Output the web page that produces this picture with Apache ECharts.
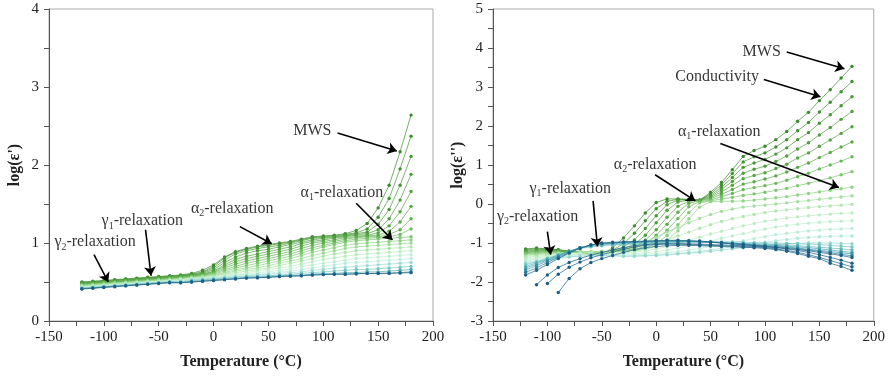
<!DOCTYPE html>
<html><head><meta charset="utf-8">
<script src="https://cdn.jsdelivr.net/npm/echarts@6/dist/echarts.min.js"></script>
<style>html,body{margin:0;padding:0;background:#fff}#c{width:888px;height:377px}</style>
</head><body><div id="c"></div>
<script>
// Temperatures (°C)
const temps = [-120,-110,-100,-90,-80,-70,-60,-50,-40,-30,-20,-10,0,10,20,30,40,50,60,70,80,90,100,110,120,130,140,150,160,170,180];

// ---- Left panel: log(ε') , series from lowest (k0) to highest (k19) frequency
const epsR00 = [.50,.51,.52,.53,.54,.55,.56,.57,.58,.59,.61,.65,.72,.82,.89,.93,.96,.98,1.00,1.02,1.05,1.08,1.09,1.10,1.12,1.16,1.25,1.45,1.74,2.17,2.64];
const epsR01 = [.495,.505,.515,.525,.535,.545,.555,.565,.575,.585,.60,.63,.70,.81,.88,.92,.95,.97,.99,1.01,1.04,1.07,1.08,1.09,1.11,1.13,1.18,1.33,1.57,1.95,2.37];
const epsR02 = [.49,.50,.51,.52,.53,.54,.55,.56,.57,.58,.595,.62,.68,.78,.86,.90,.93,.95,.97,1.00,1.03,1.06,1.07,1.08,1.10,1.12,1.14,1.24,1.43,1.74,2.11];
const epsR03 = [.485,.495,.505,.515,.525,.535,.545,.555,.565,.575,.59,.61,.66,.75,.82,.87,.90,.92,.95,.98,1.01,1.04,1.06,1.07,1.09,1.11,1.12,1.17,1.31,1.55,1.88];
const epsR04 = [.48,.49,.50,.51,.52,.53,.54,.55,.56,.57,.585,.60,.64,.72,.79,.83,.86,.89,.92,.95,.99,1.02,1.04,1.06,1.08,1.10,1.10,1.13,1.22,1.40,1.66];
const epsR05 = [.475,.485,.495,.505,.515,.525,.535,.545,.555,.565,.58,.595,.63,.70,.76,.80,.83,.86,.89,.92,.96,1.00,1.02,1.04,1.07,1.08,1.09,1.10,1.15,1.27,1.47];
const epsR06 = [.47,.48,.49,.50,.51,.52,.53,.54,.55,.56,.575,.59,.62,.68,.73,.77,.80,.83,.86,.89,.93,.97,1.00,1.02,1.05,1.07,1.08,1.08,1.11,1.17,1.31];
const epsR07 = [.465,.475,.485,.495,.505,.515,.525,.535,.545,.555,.57,.585,.61,.66,.70,.74,.77,.80,.83,.86,.90,.94,.97,1.00,1.03,1.05,1.06,1.07,1.08,1.11,1.18];
const epsR08 = [.46,.47,.48,.49,.50,.51,.52,.53,.54,.55,.565,.58,.60,.64,.68,.71,.74,.77,.80,.83,.87,.91,.95,.98,1.01,1.03,1.04,1.05,1.06,1.07,1.08];
const epsR09 = [.455,.465,.475,.485,.495,.505,.515,.525,.535,.545,.56,.575,.59,.62,.66,.68,.71,.74,.77,.80,.84,.88,.91,.94,.97,.99,1.00,1.01,1.02,1.03,1.04];
const epsR10 = [.45,.46,.47,.48,.49,.50,.51,.52,.53,.54,.555,.57,.58,.61,.64,.66,.68,.71,.74,.77,.80,.84,.87,.90,.93,.95,.96,.97,.98,.99,1.00];
const epsR11 = [.445,.455,.465,.475,.485,.495,.505,.515,.525,.535,.55,.56,.57,.60,.62,.64,.66,.68,.71,.74,.77,.80,.83,.86,.88,.90,.91,.92,.93,.94,.95];
const epsR12 = [.44,.45,.46,.47,.48,.49,.50,.51,.52,.53,.545,.555,.56,.59,.60,.62,.64,.66,.68,.70,.73,.76,.79,.81,.83,.85,.86,.87,.88,.89,.90];
const epsR13 = [.435,.445,.455,.465,.475,.485,.495,.505,.515,.525,.54,.55,.555,.58,.59,.60,.62,.63,.65,.67,.70,.72,.74,.76,.78,.80,.81,.82,.83,.84,.85];
const epsR14 = [.43,.44,.45,.46,.47,.48,.49,.50,.51,.52,.535,.545,.55,.57,.58,.59,.60,.61,.63,.64,.66,.68,.70,.72,.74,.75,.76,.77,.78,.79,.80];
const epsR15 = [.425,.435,.445,.455,.465,.475,.485,.495,.505,.51,.53,.54,.545,.56,.57,.58,.59,.60,.61,.62,.63,.65,.66,.68,.69,.70,.71,.72,.73,.74,.75];
const epsR16 = [.42,.43,.44,.45,.46,.47,.48,.49,.50,.50,.52,.53,.54,.55,.56,.57,.575,.58,.59,.60,.61,.62,.63,.64,.65,.66,.66,.67,.68,.69,.70];
const epsR17 = [.416,.426,.436,.446,.456,.466,.476,.486,.496,.495,.51,.52,.53,.54,.55,.56,.565,.57,.58,.585,.59,.60,.61,.61,.62,.62,.63,.63,.64,.65,.66];
const epsR18 = [.413,.423,.433,.443,.453,.463,.473,.483,.493,.49,.50,.51,.52,.53,.54,.55,.555,.56,.57,.575,.58,.59,.595,.60,.60,.605,.61,.61,.615,.62,.63];
const epsR19 = [.41,.42,.43,.44,.45,.46,.47,.48,.49,.49,.50,.51,.52,.53,.54,.55,.555,.56,.57,.575,.58,.59,.595,.60,.60,.605,.61,.61,.61,.615,.62];

// ---- Right panel: log(ε''), series from lowest (k0) to highest (k24) frequency
const epsI00 = [-1.15,-1.13,-1.15,-1.17,-1.21,-1.26,-1.30,-1.30,-1.12,-0.87,-0.56,-0.23,0.04,0.13,0.13,0.12,0.10,0.30,0.55,0.88,1.22,1.37,1.48,1.65,1.86,2.12,2.35,2.65,2.93,3.23,3.53];
const epsI01 = [-1.17,-1.15,-1.16,-1.18,-1.21,-1.25,-1.28,-1.28,-1.18,-1.02,-0.75,-0.43,-0.12,0.07,0.12,0.11,0.10,0.26,0.49,0.78,1.08,1.21,1.31,1.46,1.65,1.88,2.09,2.36,2.61,2.88,3.14];
const epsI02 = [-1.19,-1.17,-1.17,-1.19,-1.21,-1.24,-1.27,-1.27,-1.20,-1.10,-0.92,-0.63,-0.30,-0.02,0.10,0.11,0.10,0.22,0.43,0.68,0.94,1.05,1.14,1.28,1.44,1.65,1.83,2.07,2.29,2.52,2.75];
const epsI03 = [-1.21,-1.19,-1.19,-1.20,-1.22,-1.24,-1.26,-1.26,-1.21,-1.15,-1.03,-0.80,-0.48,-0.16,0.05,0.10,0.10,0.19,0.37,0.58,0.79,0.89,0.97,1.09,1.23,1.41,1.57,1.77,1.96,2.17,2.37];
const epsI04 = [-1.23,-1.21,-1.20,-1.21,-1.22,-1.24,-1.25,-1.25,-1.22,-1.18,-1.10,-0.93,-0.66,-0.34,-0.06,0.07,0.09,0.16,0.31,0.48,0.65,0.73,0.80,0.91,1.02,1.18,1.31,1.48,1.64,1.81,1.98];
const epsI05 = [-1.25,-1.23,-1.22,-1.22,-1.23,-1.24,-1.25,-1.24,-1.22,-1.20,-1.14,-1.02,-0.80,-0.52,-0.21,0.02,0.08,0.13,0.25,0.37,0.51,0.57,0.64,0.72,0.82,0.94,1.05,1.19,1.32,1.46,1.59];
const epsI06 = [-1.27,-1.25,-1.23,-1.23,-1.23,-1.23,-1.24,-1.23,-1.22,-1.21,-1.17,-1.08,-0.92,-0.67,-0.37,-0.07,0.06,0.10,0.19,0.27,0.37,0.42,0.47,0.53,0.61,0.70,0.79,0.90,1.00,1.10,1.21];
const epsI07 = [-1.29,-1.27,-1.25,-1.24,-1.24,-1.23,-1.23,-1.22,-1.22,-1.21,-1.19,-1.13,-1.02,-0.81,-0.53,-0.22,0.03,0.08,0.13,0.17,0.22,0.26,0.30,0.35,0.40,0.47,0.53,0.60,0.67,0.75,0.83];
const epsI08 = [-1.31,-1.29,-1.27,-1.25,-1.24,-1.23,-1.22,-1.21,-1.21,-1.21,-1.20,-1.16,-1.08,-0.93,-0.69,-0.38,-0.08,0.06,0.07,0.07,0.08,0.10,0.13,0.16,0.19,0.23,0.27,0.31,0.35,0.39,0.43];
const epsI09 = [-1.34,-1.32,-1.29,-1.27,-1.25,-1.24,-1.23,-1.22,-1.22,-1.18,-1.10,-0.98,-0.85,-0.72,-0.60,-0.48,-0.37,-0.27,-0.19,-0.13,-0.08,-0.05,-0.03,0.00,0.03,0.06,0.09,0.12,0.15,0.18,0.21];
const epsI10 = [-1.37,-1.35,-1.32,-1.29,-1.27,-1.25,-1.24,-1.24,-1.24,-1.22,-1.18,-1.11,-1.02,-0.92,-0.82,-0.72,-0.62,-0.53,-0.45,-0.38,-0.32,-0.27,-0.22,-0.18,-0.15,-0.12,-0.09,-0.07,-0.05,-0.03,-0.01];
const epsI11 = [-1.40,-1.38,-1.35,-1.32,-1.29,-1.27,-1.26,-1.26,-1.26,-1.25,-1.23,-1.20,-1.15,-1.09,-1.01,-0.93,-0.85,-0.77,-0.70,-0.63,-0.56,-0.50,-0.44,-0.40,-0.36,-0.33,-0.30,-0.28,-0.26,-0.24,-0.23];
const epsI12 = [-1.43,-1.41,-1.37,-1.34,-1.31,-1.29,-1.28,-1.28,-1.28,-1.28,-1.27,-1.25,-1.22,-1.18,-1.13,-1.07,-1.01,-0.95,-0.88,-0.82,-0.76,-0.70,-0.64,-0.59,-0.55,-0.52,-0.49,-0.47,-0.45,-0.44,-0.43];
const epsI13 = [-1.46,-1.43,-1.39,-1.36,-1.33,-1.31,-1.30,-1.30,-1.30,-1.30,-1.30,-1.29,-1.27,-1.25,-1.22,-1.18,-1.14,-1.09,-1.04,-0.99,-0.94,-0.89,-0.84,-0.79,-0.75,-0.72,-0.69,-0.67,-0.65,-0.64,-0.63];
const epsI14 = [-1.49,-1.46,-1.42,-1.38,-1.35,-1.33,-1.32,-1.32,-1.32,-1.33,-1.33,-1.32,-1.31,-1.29,-1.27,-1.24,-1.21,-1.18,-1.14,-1.10,-1.06,-1.02,-0.98,-0.94,-0.91,-0.88,-0.86,-0.84,-0.83,-0.82,-0.82];
const epsI15 = [-1.52,-1.49,-1.44,-1.40,-1.36,-1.34,-1.33,-1.33,-1.33,-1.34,-1.34,-1.33,-1.32,-1.30,-1.28,-1.26,-1.24,-1.21,-1.18,-1.15,-1.12,-1.09,-1.06,-1.04,-1.02,-1.01,-1.00,-1.00,-1.00,-1.01,-1.02];
const epsI16 = [-1.56,-1.48,-1.39,-1.30,-1.21,-1.14,-1.10,-1.07,-1.05,-1.04,-1.03,-1.02,-1.01,-1.00,-0.99,-0.98,-0.97,-0.97,-0.97,-0.97,-0.98,-0.99,-1.00,-1.00,-1.01,-1.02,-1.03,-1.04,-1.06,-1.08,-1.10];
const epsI17 = [-1.60,-1.51,-1.41,-1.31,-1.21,-1.13,-1.08,-1.05,-1.03,-1.02,-1.01,-1.00,-0.99,-0.98,-0.97,-0.97,-0.97,-0.98,-0.99,-1.00,-1.01,-1.02,-1.03,-1.04,-1.05,-1.07,-1.09,-1.11,-1.13,-1.15,-1.18];
const epsI18 = [-1.64,-1.54,-1.43,-1.32,-1.21,-1.12,-1.06,-1.03,-1.01,-1.00,-0.99,-0.98,-0.97,-0.96,-0.96,-0.96,-0.97,-0.98,-0.99,-1.01,-1.02,-1.04,-1.05,-1.06,-1.08,-1.10,-1.12,-1.15,-1.18,-1.21,-1.24];
const epsI19 = [-1.69,-1.58,-1.46,-1.34,-1.22,-1.12,-1.05,-1.02,-1.00,-0.99,-0.98,-0.97,-0.96,-0.95,-0.95,-0.96,-0.97,-0.98,-1.00,-1.02,-1.03,-1.05,-1.07,-1.08,-1.10,-1.13,-1.16,-1.19,-1.22,-1.25,-1.28];
const epsI20 = [-1.75,-1.64,-1.50,-1.37,-1.24,-1.13,-1.05,-1.01,-0.99,-0.98,-0.97,-0.96,-0.95,-0.94,-0.94,-0.95,-0.96,-0.98,-1.00,-1.02,-1.04,-1.06,-1.08,-1.10,-1.12,-1.15,-1.18,-1.21,-1.25,-1.29,-1.33];
const epsI21 = [-1.82,-1.70,-1.55,-1.40,-1.26,-1.14,-1.05,-1.00,-0.98,-0.97,-0.96,-0.95,-0.94,-0.93,-0.93,-0.94,-0.95,-0.97,-0.99,-1.02,-1.04,-1.07,-1.09,-1.11,-1.14,-1.17,-1.20,-1.24,-1.28,-1.32,-1.37];
const epsI22 = [null,-2.07,-1.82,-1.63,-1.50,-1.40,-1.31,-1.24,-1.18,-1.12,-1.07,-1.04,-1.02,-1.01,-1.01,-1.02,-1.03,-1.04,-1.05,-1.06,-1.07,-1.08,-1.10,-1.12,-1.15,-1.19,-1.24,-1.30,-1.37,-1.44,-1.52];
const epsI23 = [null,null,-2.04,-1.80,-1.62,-1.49,-1.38,-1.30,-1.23,-1.16,-1.10,-1.06,-1.04,-1.03,-1.03,-1.04,-1.05,-1.06,-1.07,-1.08,-1.09,-1.10,-1.12,-1.15,-1.19,-1.24,-1.30,-1.37,-1.45,-1.53,-1.61];
const epsI24 = [null,null,null,-2.27,-1.91,-1.66,-1.50,-1.40,-1.32,-1.24,-1.17,-1.12,-1.09,-1.07,-1.06,-1.06,-1.07,-1.08,-1.09,-1.10,-1.11,-1.12,-1.14,-1.17,-1.21,-1.27,-1.34,-1.40,-1.52,-1.60,-1.70];

// Axis ticks
const xTickLabels = [-150,-100,-50,0,50,100,150,200];
const yLeftTicks = [0,1,2,3,4];
const yRightTicks = [-3,-2,-1,0,1,2,3,4,5];

// Annotations: [text, x, y]  and arrows [x1,y1,x2,y2] (data units)
const leftLabels = [
  ['MWS', 90, 2.44],
  ['{a|α}{s|1}{a|-relaxation}', 117, 1.65],
  ['{a|α}{s|2}{a|-relaxation}', 17, 1.44],
  ['{a|γ}{s|1}{a|-relaxation}', -65, 1.28],
  ['{a|γ}{s|2}{a|-relaxation}', -108, 1.01]
];
const leftArrows = [[113,2.41,167,2.18],[130,1.51,163,1.04],[24,1.21,53,0.99],[-62,1.17,-57,0.58],[-109,0.85,-96,0.50]];
const rightLabels = [
  ['MWS', 97, 3.9],
  ['Conductivity', 56, 3.26],
  ['{a|α}{s|1}{a|-relaxation}', 58, 1.85],
  ['{a|α}{s|2}{a|-relaxation}', -1, 1.01],
  ['{a|γ}{s|1}{a|-relaxation}', -79, 0.39],
  ['{a|γ}{s|2}{a|-relaxation}', -109, -0.33]
];
const rightArrows = [[120,3.9,173,3.47],[99,3.19,151,2.75],[59,1.55,168,0.42],[-1,0.75,36,0.08],[-58,0.08,-54,-1.09],[-100,-0.71,-97,-1.3]];

const leftSeriesData = [epsR00,epsR01,epsR02,epsR03,epsR04,epsR05,epsR06,epsR07,epsR08,epsR09,epsR10,epsR11,epsR12,epsR13,epsR14,epsR15,epsR16,epsR17,epsR18,epsR19];
const rightSeriesData = [epsI00,epsI01,epsI02,epsI03,epsI04,epsI05,epsI06,epsI07,epsI08,epsI09,epsI10,epsI11,epsI12,epsI13,epsI14,epsI15,epsI16,epsI17,epsI18,epsI19,epsI20,epsI21,epsI22,epsI23,epsI24];

// ---- styling
const stops = [[0,[58,138,44]],[0.3,[90,171,72]],[0.5,[147,216,138]],[0.65,[192,239,200]],[0.75,[185,236,222]],[0.85,[111,193,191]],[0.93,[53,146,165]],[1,[27,95,133]]];
function colorAt(t){
  for(let i=1;i<stops.length;i++){
    if(t<=stops[i][0]){
      const a=stops[i-1],b=stops[i];const f=(t-a[0])/(b[0]-a[0]);
      const c=a[1].map((v,j)=>Math.round(v+(b[1][j]-v)*f));
      return 'rgb('+c.join(',')+')';
    }
  }
  return 'rgb(27,95,133)';
}
const leftT = leftSeriesData.map((_,k)=>k/(leftSeriesData.length-1));
const rightT = [0,.06,.12,.18,.24,.30,.36,.42,.48,.55,.60,.64,.68,.72,.76,.80,.84,.87,.90,.93,.96,1,1,1,1];

const serif = '"Liberation Serif","Times New Roman",serif';

function lineSeries(arr, color, gi){
  const data=[];
  temps.forEach((T,i)=>{ if(arr[i]!==null) data.push([T,arr[i]]); });
  return {type:'line', xAxisIndex:gi, yAxisIndex:gi, data, symbol:'circle', symbolSize:3.4,
    showSymbol:true, silent:true, animation:false,
    lineStyle:{color, width:0.7}, itemStyle:{color}};
}
function annoSeries(labels, arrows, gi){
  return {type:'scatter', xAxisIndex:gi, yAxisIndex:gi, symbolSize:1, silent:true, animation:false, z:10,
    itemStyle:{color:'rgba(0,0,0,0)'},
    data: labels.map(l=>({name:l[0], value:[l[1],l[2]]})),
    label:{show:true, position:'inside', formatter:p=>p.name, color:'#000', fontFamily:serif, fontSize:16,
      rich:{a:{fontFamily:serif,fontSize:16,color:'#000',lineHeight:20}, s:{fontFamily:serif,fontSize:10,color:'#000',lineHeight:20,verticalAlign:'bottom'}}},
    markLine:{silent:true, animation:false, symbol:['none','arrow'], symbolSize:9, label:{show:false},
      lineStyle:{color:'#000', width:1.6, type:'solid'},
      data: arrows.map(a=>[{coord:[a[0],a[1]]},{coord:[a[2],a[3]]}])}
  };
}

const axisLbl = {color:'#222', fontFamily:serif, fontSize:15};
function xAx(gi){
  return {type:'value', gridIndex:gi, min:xTickLabels[0], max:xTickLabels[xTickLabels.length-1], interval:50,
    splitLine:{show:false}, axisLine:{onZero:false, lineStyle:{color:'#555'}}, axisTick:{length:5, lineStyle:{color:'#555'}},
    minorTick:{show:true, splitNumber:2, length:5, lineStyle:{color:'#555'}}, minorSplitLine:{show:false},
    axisLabel:Object.assign({margin:9}, axisLbl),
    name:'Temperature (°C)', nameLocation:'middle', nameGap:33,
    nameTextStyle:{fontFamily:serif, fontWeight:'bold', fontSize:16, color:'#222'}};
}
function yAx(gi, ticks, name, gap){
  return {type:'value', gridIndex:gi, min:ticks[0], max:ticks[ticks.length-1], interval:1,
    splitLine:{show:false}, axisLine:{show:true, onZero:false, lineStyle:{color:'#555'}}, axisTick:{show:true, length:5, lineStyle:{color:'#555'}},
    minorTick:{show:true, splitNumber:2, length:5, lineStyle:{color:'#555'}}, minorSplitLine:{show:false},
    axisLabel:Object.assign({margin:10}, axisLbl),
    name, nameLocation:'middle', nameGap:gap, nameRotate:90,
    nameTextStyle:{fontFamily:serif, fontWeight:'bold', fontSize:16, color:'#222'}};
}

const series = [];
leftSeriesData.forEach((arr,k)=>series.push(lineSeries(arr, colorAt(leftT[k]), 0)));
rightSeriesData.forEach((arr,k)=>series.push(lineSeries(arr, colorAt(rightT[k]), 1)));
series.push(annoSeries(leftLabels, leftArrows, 0));
series.push(annoSeries(rightLabels, rightArrows, 1));

const chart = echarts.init(document.getElementById('c'), null, {renderer:'canvas'});
chart.setOption({
  animation:false,
  backgroundColor:'#fff',
  grid:[
    {left:49, top:9, width:384, height:312, show:true, borderColor:'#aaa', borderWidth:1, backgroundColor:'transparent'},
    {left:493, top:9, width:384, height:312, show:true, borderColor:'#aaa', borderWidth:1, backgroundColor:'transparent'}
  ],
  xAxis:[xAx(0), xAx(1)],
  yAxis:[yAx(0, yLeftTicks, "log(ε')", 26), yAx(1, yRightTicks, "log(ε'')", 27)],
  series
});
</script>
</body></html>
